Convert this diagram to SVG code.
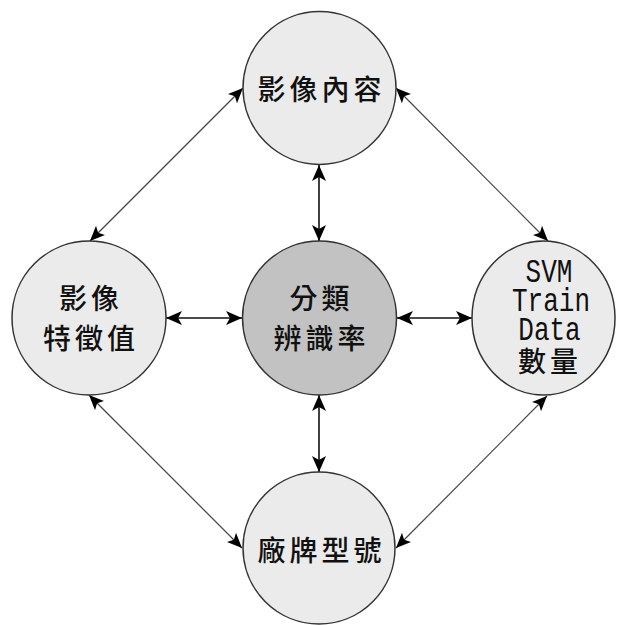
<svg xmlns="http://www.w3.org/2000/svg" width="618" height="625" viewBox="0 0 618 625">
<defs>
<marker id="ab" viewBox="0 0 16 14" refX="16" refY="7" markerWidth="16" markerHeight="14" orient="auto-start-reverse" markerUnits="userSpaceOnUse">
<path d="M0,0 L16,7 L0,14 L4,7 Z" fill="#000"/>
</marker>
<marker id="as" viewBox="0 0 15 13" refX="15" refY="6.5" markerWidth="15" markerHeight="13" orient="auto-start-reverse" markerUnits="userSpaceOnUse">
<path d="M0,0 L15,6.5 L0,13 L3.5,6.5 Z" fill="#000"/>
</marker>
</defs>
<style>
.n{fill:#ebebeb;stroke:#333;stroke-width:1.5}
.c{fill:#c2c2c2;stroke:#333;stroke-width:1.5}
.t{font-family:"Noto Sans CJK TC","Noto Sans CJK SC",sans-serif;font-size:28px;font-weight:500;fill:#111;text-anchor:middle;dominant-baseline:central;letter-spacing:4px}
.l{font-family:"Liberation Mono",monospace;font-size:26px;fill:#111;text-anchor:middle}
.s{stroke:#111;stroke-width:1.6;fill:none;marker-start:url(#ab);marker-end:url(#ab)}
.d{stroke:#444;stroke-width:1.2;fill:none;marker-start:url(#as);marker-end:url(#as)}
</style>
<rect width="618" height="625" fill="#fff"/>
<g id="connectors">
<line class="s" x1="319" y1="165" x2="319" y2="241"/>
<line class="s" x1="166" y1="318" x2="242" y2="318"/>
<line class="s" x1="397" y1="318" x2="472" y2="318"/>
<line class="s" x1="319" y1="395" x2="319" y2="472"/>
<line class="d" x1="243" y1="88" x2="90" y2="241"/>
<line class="d" x1="396" y1="88" x2="548" y2="241"/>
<line class="d" x1="89" y1="395" x2="242" y2="548"/>
<line class="d" x1="547" y1="396" x2="396" y2="548"/>
</g>
<g id="node-top">
<circle class="n" cx="319.5" cy="88" r="76.5"/>
<text class="t" x="321.5" y="88">影像內容</text>
</g>
<g id="node-left">
<circle class="n" cx="89" cy="318" r="77"/>
<text class="t" x="91" y="297">影像</text>
<text class="t" x="91" y="337">特徵值</text>
</g>
<g id="node-center">
<circle class="c" cx="319.5" cy="318" r="77"/>
<text class="t" x="321.5" y="297">分類</text>
<text class="t" x="321.5" y="337">辨識率</text>
</g>
<g id="node-right">
<ellipse class="n" cx="543.5" cy="318" rx="71.5" ry="77"/>
<text class="l" transform="translate(549,282) scale(1,1.3)">SVM</text>
<text class="l" transform="translate(551,311) scale(1,1.3)">Train</text>
<text class="l" transform="translate(549.5,340) scale(1,1.3)">Data</text>
<text class="t" x="550" y="360">數量</text>
</g>
<g id="node-bottom">
<circle class="n" cx="319" cy="548" r="76"/>
<text class="t" x="321.5" y="549">廠牌型號</text>
</g>
</svg>
